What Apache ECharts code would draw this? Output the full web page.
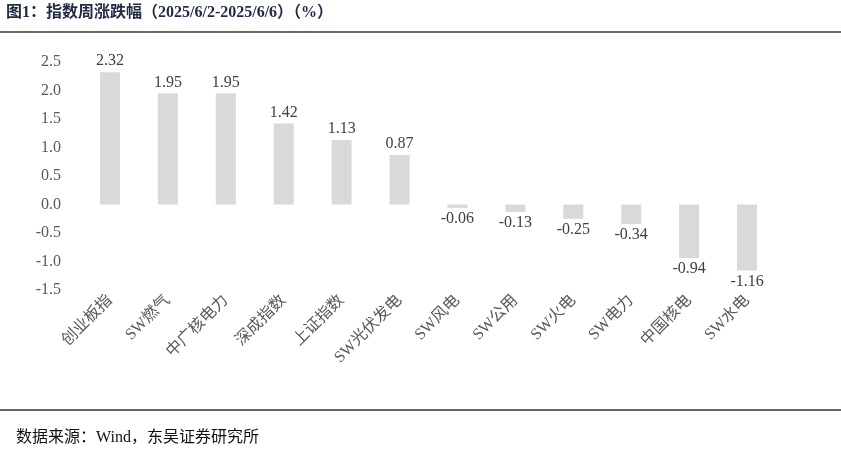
<!DOCTYPE html>
<html><head><meta charset="utf-8">
<script src="https://cdn.jsdelivr.net/npm/echarts@6/dist/echarts.min.js"></script>
<style>html,body{margin:0;padding:0;background:#fff}#c{width:841px;height:457px}</style>
</head><body><div id="c"></div>
<script>
const categories = ['创业板指','SW燃气','中广核电力','深成指数','上证指数','SW光伏发电','SW风电','SW公用','SW火电','SW电力','中国核电','SW水电'];
const values = [2.32,1.95,1.95,1.42,1.13,0.87,-0.06,-0.13,-0.25,-0.34,-0.94,-1.16];
const yTicks = [-1.5,-1.0,-0.5,0.0,0.5,1.0,1.5,2.0,2.5];
const font = '"Liberation Serif","Noto Sans CJK SC",serif';
const chart = echarts.init(document.getElementById('c'));
chart.setOption({
  animation:false,
  graphic:[
    {type:'text',left:6,top:5,style:{text:'图1：指数周涨跌幅（2025/6/2-2025/6/6）（%）',font:'bold 16px '+font,fill:'#1f2a44'}},
    {type:'line',shape:{x1:0,y1:32,x2:841,y2:32},style:{stroke:'#333',lineWidth:1.5}},
    {type:'line',shape:{x1:0,y1:410,x2:841,y2:410},style:{stroke:'#333',lineWidth:1.5}},
    {type:'text',left:16,top:430,style:{text:'数据来源：Wind，东吴证券研究所',font:'16px '+font,fill:'#111'}}
  ],
  grid:{left:81,right:65,top:62,bottom:167},
  xAxis:{type:'category',data:categories,axisLine:{onZero:false,show:false},axisTick:{show:false},
    axisLabel:{rotate:45,interval:0,fontFamily:font,fontSize:16,color:'#595959',margin:8}},
  yAxis:{type:'value',min:yTicks[0],max:yTicks[yTicks.length-1],interval:0.5,
    axisLine:{show:false},axisTick:{show:false},splitLine:{show:false},
    axisLabel:{fontFamily:font,fontSize:16,color:'#595959',formatter:v=>v.toFixed(1),margin:20}},
  series:[{type:'bar',data:values,barWidth:20,itemStyle:{color:'#d9d9d9'},
    label:{show:true,fontFamily:font,fontSize:16,color:'#404040',distance:3,
      formatter:p=>p.value.toFixed(2),position:'outside'}
  }]
});
</script></body></html>
